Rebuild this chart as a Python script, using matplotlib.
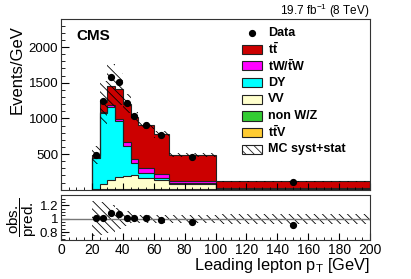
import numpy as np
import matplotlib
matplotlib.use('Agg')
import matplotlib.pyplot as plt
from matplotlib.patches import Rectangle
from matplotlib.lines import Line2D
from matplotlib.ticker import MultipleLocator

# ---------------- data ----------------
edges = [20, 25, 30, 35, 40, 45, 50, 60, 70, 100, 200]
ttV   = [0.5, 1, 1.5, 2, 2, 2, 2, 2, 1.5, 0.5]
nonWZ = [1, 3, 5, 7, 9, 7, 5, 3, 1.5, 0.3]
VV    = [8, 71, 130, 165, 181, 197, 153, 131, 72, 9]
DY    = [430, 995, 1024, 792, 424, 164, 70, 32, 15, 3]
tW    = [10, 15, 25, 29, 47, 55, 70, 48, 28, 7]
tt    = [37, 139, 272, 411, 542, 597, 602, 560, 368, 98]
data  = [488, 1240, 1575, 1505, 1210, 1040, 910, 765, 465, 106]
rel_unc = [0.26, 0.25, 0.21, 0.16, 0.11, 0.07, 0.06, 0.06, 0.06, 0.075]

labels = [r't$\bar{\mathbf{t}}$V', 'non W/Z', 'VV', 'DY', r'tW/$\bar{\mathbf{t}}$W', r't$\bar{\mathbf{t}}$']
colors = ['#ffcc33', '#33cc33', '#ffffcc', '#00ffff', '#ff00ff', '#cc0000']
components = [ttV, nonWZ, VV, DY, tW, tt]

# ---------------- style ----------------
plt.rcParams['font.family'] = ['Liberation Sans', 'DejaVu Sans']
plt.rcParams['mathtext.fontset'] = 'custom'
plt.rcParams['mathtext.rm'] = 'Liberation Sans'
plt.rcParams['mathtext.it'] = 'Liberation Sans:italic'
plt.rcParams['mathtext.bf'] = 'Liberation Sans:bold'
plt.rcParams['mathtext.default'] = 'regular'
plt.rcParams['hatch.color'] = 'black'
plt.rcParams['hatch.linewidth'] = 0.6

W, H = 411, 279
fig = plt.figure(figsize=(W / 100, H / 100), dpi=100)

def fr(x0, y0, x1, y1):
    return [x0 / W, 1 - y1 / H, (x1 - x0) / W, (y1 - y0) / H]

def fx(x):
    return x / W

def fy(y):
    return 1 - y / H

ax = fig.add_axes(fr(61, 19.3, 370, 189.7))
rax = fig.add_axes(fr(61, 194.7, 370, 240))

edges_a = np.array(edges, float)
centers = 0.5 * (edges_a[:-1] + edges_a[1:])
data_a = np.array(data, float)
unc_a = np.array(rel_unc, float)

# stacked histogram
bottom = np.zeros(len(centers))
tops = []
for vals, col in zip(components, colors):
    top = bottom + np.array(vals, float)
    ax.stairs(top, edges_a, baseline=bottom, fill=True, facecolor=col, edgecolor='none', lw=0)
    tops.append(top)
    bottom = top
total = bottom
for top in tops:
    ax.stairs(top, edges_a, baseline=0, fill=False, color='#222222', lw=0.8)

# MC uncertainty band
ax.stairs(total * (1 + unc_a), edges_a, baseline=total * (1 - unc_a), fill=True,
          facecolor='none', edgecolor='black', hatch='\\\\\\\\', lw=0)

# data
ax.plot(centers, data_a, 'o', color='black', ms=4.2, zorder=5)

ax.set_xlim(0, 200)
ax.set_ylim(0, 2390)
ax.xaxis.set_major_locator(MultipleLocator(20))
ax.xaxis.set_minor_locator(MultipleLocator(5))
ax.set_yticks([500, 1000, 1500, 2000])
ax.set_yticklabels(['500', '1000', '1500', '2000'])
ax.yaxis.set_minor_locator(MultipleLocator(100))
ax.tick_params(axis='x', which='both', direction='in', labelbottom=False, top=False)
ax.tick_params(axis='x', which='major', length=5)
ax.tick_params(axis='x', which='minor', length=2.5)
ax.tick_params(axis='y', which='both', direction='in', right=False, labelsize=9.5, pad=2)
ax.tick_params(axis='y', which='major', length=6)
ax.tick_params(axis='y', which='minor', length=3)

# ratio panel
ratio = data_a / total
rax.stairs(1 + unc_a, edges_a, baseline=1 - unc_a, fill=True,
           facecolor='none', edgecolor='black', hatch='\\\\\\\\', lw=0)
rax.axhline(1, color='#777777', lw=1)
rax.plot(centers, ratio, 'o', color='black', ms=4.2, zorder=5)
rax.set_xlim(0, 200)
rax.set_ylim(0.68, 1.36)
rax.set_yticks([0.8, 1.0, 1.2])
rax.set_yticklabels(['0.8', '1', '1.2'])
rax.yaxis.set_minor_locator(MultipleLocator(0.05))
rax.xaxis.set_major_locator(MultipleLocator(20))
rax.xaxis.set_minor_locator(MultipleLocator(5))
rax.tick_params(axis='x', which='both', direction='in', top=False, labelsize=10, pad=2)
rax.tick_params(axis='x', which='major', length=5)
rax.tick_params(axis='x', which='minor', length=2.5)
rax.tick_params(axis='y', which='both', direction='in', right=False, labelsize=9.5, pad=2)
rax.tick_params(axis='y', which='major', length=6)
rax.tick_params(axis='y', which='minor', length=3)

for a in (ax, rax):
    for s in a.spines.values():
        s.set_linewidth(0.8)
        s.set_color('#333333')

# texts
fig.text(fx(370), fy(15), r'19.7 fb$^{-1}$ (8 TeV)', ha='right', va='baseline', fontsize=8.5)
fig.text(fx(76), fy(36), 'CMS', ha='left', va='center', fontsize=11, fontweight='bold')
fig.text(fx(17), fy(25), 'Events/GeV', rotation=90, ha='center', va='top', fontsize=12)
fig.text(fx(370), fy(270), r'Leading lepton p$_{\mathrm{T}}$ [GeV]', ha='right', va='baseline', fontsize=11.8)
fig.text(fx(22.5), fy(217), r'$\dfrac{\mathrm{obs.}}{\mathrm{pred.}}$', rotation=90,
         ha='center', va='center', fontsize=11)

# legend (manual)
leg_y0, leg_dy = 32.5, 16.67
box_x0, box_x1, box_h = 242.3, 262.3, 9.3
text_x = 267.7
entries = [('Data', None, None)]
for lab, col in zip(labels[::-1], colors[::-1]):
    entries.append((lab, col, None))
entries.append(('MC syst+stat', 'none', 'hatch'))
for i, (lab, col, kind) in enumerate(entries):
    y = leg_y0 + i * leg_dy
    if col is None:
        fig.add_artist(Line2D([fx(252.3)], [fy(y)], marker='o', color='black', ms=4.2,
                              transform=fig.transFigure))
    else:
        r = Rectangle((fx(box_x0), fy(y + box_h / 2)), fx(box_x1) - fx(box_x0), box_h / H,
                      facecolor=col, edgecolor='#222222', lw=0.8, transform=fig.transFigure,
                      hatch='\\\\\\\\' if kind == 'hatch' else None)
        fig.add_artist(r)
    fig.text(fx(text_x), fy(y), lab, ha='left', va='center', fontsize=9, fontweight='bold')

fig.savefig('out.png', dpi=100)
